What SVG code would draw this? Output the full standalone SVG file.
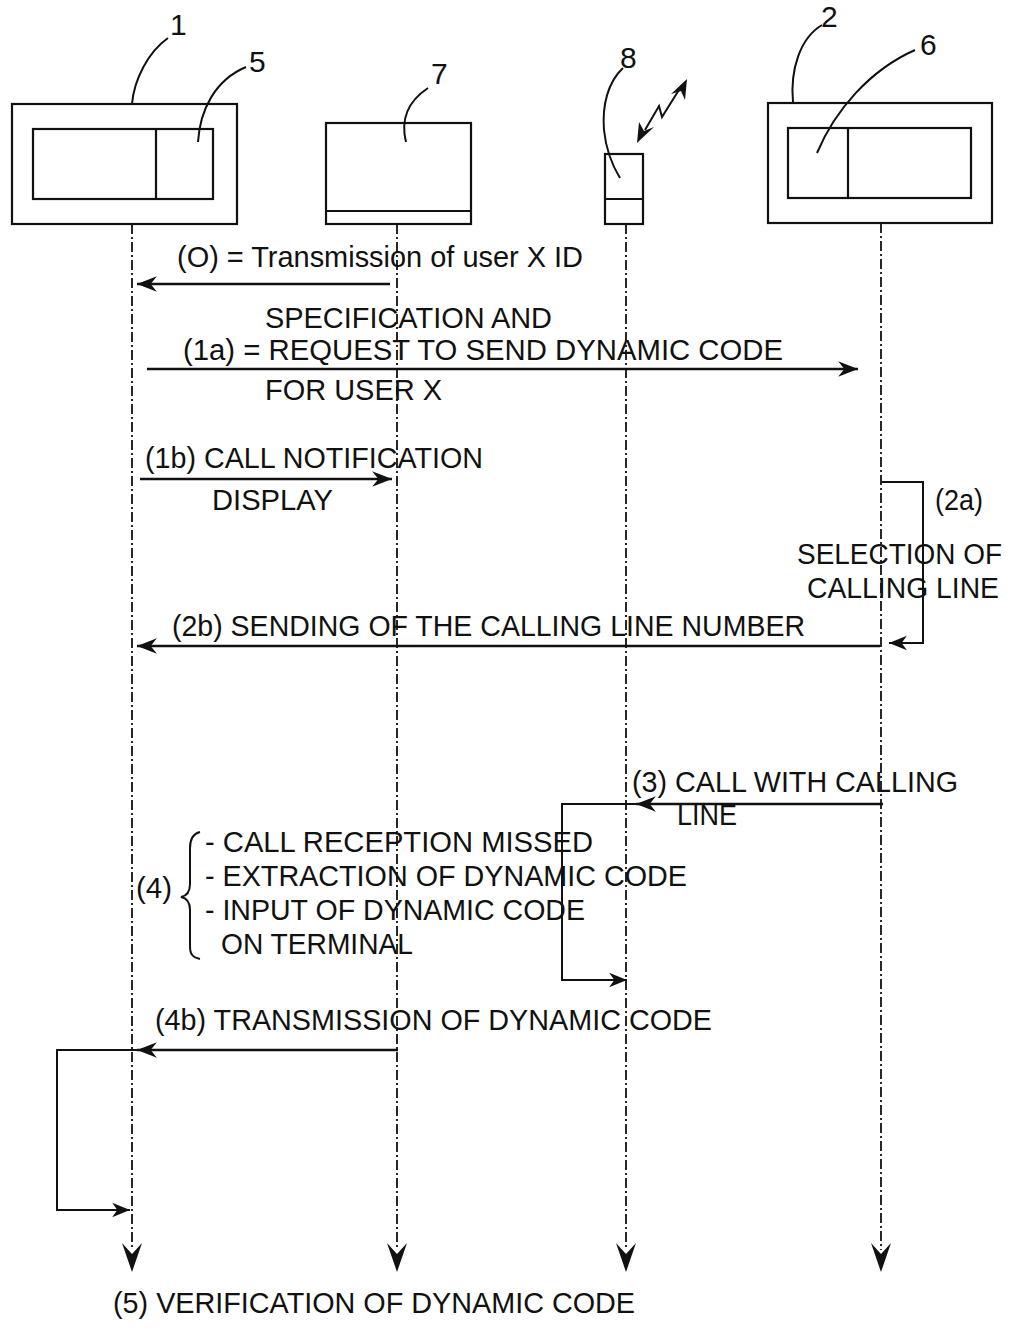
<svg xmlns="http://www.w3.org/2000/svg" width="1017" height="1331" viewBox="0 0 1017 1331">
<style>
.box{fill:none;stroke:#111;stroke-width:2.2}
.lead{fill:none;stroke:#111;stroke-width:2}
.num{font-family:"Liberation Sans",Arial,sans-serif;font-size:30px;fill:#111}
.t{font-family:"Liberation Sans",Arial,sans-serif;font-size:29px;fill:#111}
.life{fill:none;stroke:#111;stroke-width:1.8;stroke-dasharray:10 3 2 3}
.msg{fill:none;stroke:#111;stroke-width:2.4}
.loop{fill:none;stroke:#111;stroke-width:2}
.head{fill:#111}
</style>
<defs>
<marker id="ah" markerUnits="userSpaceOnUse" markerWidth="22" markerHeight="18" viewBox="-19 -8 21 16" refX="0" refY="0" orient="auto">
<path d="M0,0 L-19,-7.5 L-13,0 L-19,7.5 z" class="head"/>
</marker>
<marker id="dah" markerUnits="userSpaceOnUse" markerWidth="20" markerHeight="18" viewBox="-17 -8 19 16" refX="0" refY="0" orient="auto">
<path d="M0,0 L-17,-7 L-12,0 L-17,7 z" class="head"/>
</marker>
</defs>
<rect width="1017" height="1331" fill="#fff"/>

<g id="node1">
<rect class="box" x="12" y="104" width="225" height="120"/>
<rect class="box" x="33" y="129" width="180" height="70"/>
<line class="box" x1="156" y1="129" x2="156" y2="199"/>
<path class="lead" d="M132,104 C134,80 148,52 168,38"/>
<text class="num" x="170" y="35">1</text>
</g>

<g id="node5">
<path class="lead" d="M198,142 C200,110 215,80 246,67"/>
<text class="num" x="249" y="72">5</text>
</g>

<g id="node7">
<rect class="box" x="326" y="123" width="145" height="101"/>
<line class="box" x1="326" y1="211" x2="471" y2="211"/>
<path class="lead" d="M406,142 C400,118 410,100 428,88"/>
<text class="num" x="431" y="84">7</text>
</g>

<g id="node8">
<rect class="box" x="605" y="154" width="38" height="70"/>
<line class="box" x1="605" y1="199" x2="643" y2="199"/>
<path class="lead" d="M620,178 C612,165 606,150 604,130 C602,105 608,82 623,68"/>
<text class="num" x="620" y="68">8</text>
<path class="lead" d="M645,130 L659,106 L662,117 L682,85"/>
<path class="head" d="M637,143 L639,122 L644,131 L654,127 z"/>
<path class="head" d="M687,79 L685,100 L681,91 L671,94 z"/>
</g>

<g id="node2">
<rect class="box" x="768" y="103" width="224" height="120"/>
<rect class="box" x="788" y="128" width="183" height="70"/>
<line class="box" x1="848" y1="128" x2="848" y2="198"/>
<path class="lead" d="M793,102 C790,70 800,38 822,25"/>
<text class="num" x="821" y="27">2</text>
</g>

<g id="node6">
<path class="lead" d="M817,153 C835,110 870,70 915,50"/>
<text class="num" x="920" y="55">6</text>
</g>

<g id="connectors">
<line class="life" x1="132" y1="224" x2="132" y2="1250"/>
<line class="life" x1="397" y1="224" x2="397" y2="1250"/>
<line class="life" x1="626" y1="224" x2="626" y2="1250"/>
<line class="life" x1="881" y1="223" x2="881" y2="1250"/>
<path class="head" d="M132,1272 L122,1243 L132,1254 L142,1243 z"/>
<path class="head" d="M397,1272 L387,1243 L397,1254 L407,1243 z"/>
<path class="head" d="M626,1272 L616,1243 L626,1254 L636,1243 z"/>
<path class="head" d="M881,1272 L871,1243 L881,1254 L891,1243 z"/>

<line class="msg" x1="390" y1="284" x2="137" y2="284" marker-end="url(#ah)"/>
<line class="msg" x1="147" y1="369" x2="858" y2="369" marker-end="url(#ah)"/>
<line class="msg" x1="140" y1="479" x2="392" y2="479" marker-end="url(#ah)"/>
<path class="loop" d="M882,482 L923,482 L923,643 L889,643" marker-end="url(#dah)"/>
<line class="msg" x1="880" y1="646" x2="137" y2="646" marker-end="url(#ah)"/>
<line class="msg" x1="883" y1="804" x2="636" y2="804" marker-end="url(#ah)"/>
<path class="loop" d="M636,804 L562,804 L562,980 L627,980" marker-end="url(#dah)"/>
<line class="msg" x1="398" y1="1050" x2="137" y2="1050" marker-end="url(#ah)"/>
<path class="loop" d="M137,1050 L57,1050 L57,1210 L130,1210" marker-end="url(#dah)"/>
<path class="lead" d="M200,832 C192,834 190,840 190,848 L190,884 C190,892 186,896 181,897 C186,898 190,902 190,910 L190,946 C190,954 192,957 200,959"/>

<text class="t" x="177" y="267" textLength="406" lengthAdjust="spacingAndGlyphs">(O) = Transmission of user X ID</text>
<text class="t" x="265" y="328" textLength="287" lengthAdjust="spacingAndGlyphs">SPECIFICATION AND</text>
<text class="t" x="183" y="360" textLength="600" lengthAdjust="spacingAndGlyphs">(1a) = REQUEST TO SEND DYNAMIC CODE</text>
<text class="t" x="265" y="400" textLength="177" lengthAdjust="spacingAndGlyphs">FOR USER X</text>
<text class="t" x="145" y="468" textLength="338" lengthAdjust="spacingAndGlyphs">(1b) CALL NOTIFICATION</text>
<text class="t" x="212" y="510" textLength="121" lengthAdjust="spacingAndGlyphs">DISPLAY</text>
<text class="t" x="935" y="510" textLength="48" lengthAdjust="spacingAndGlyphs">(2a)</text>
<text class="t" x="797" y="564" textLength="205" lengthAdjust="spacingAndGlyphs">SELECTION OF</text>
<text class="t" x="807" y="598" textLength="192" lengthAdjust="spacingAndGlyphs">CALLING LINE</text>
<text class="t" x="172" y="636" textLength="633" lengthAdjust="spacingAndGlyphs">(2b) SENDING OF THE CALLING LINE NUMBER</text>
<text class="t" x="632" y="792" textLength="326" lengthAdjust="spacingAndGlyphs">(3) CALL WITH CALLING</text>
<text class="t" x="677" y="825" textLength="60" lengthAdjust="spacingAndGlyphs">LINE</text>
<text class="t" x="136" y="898" textLength="36" lengthAdjust="spacingAndGlyphs">(4)</text>
<text class="t" x="205" y="852" textLength="388" lengthAdjust="spacingAndGlyphs">- CALL RECEPTION MISSED</text>
<text class="t" x="205" y="886" textLength="482" lengthAdjust="spacingAndGlyphs">- EXTRACTION OF DYNAMIC CODE</text>
<text class="t" x="205" y="920" textLength="380" lengthAdjust="spacingAndGlyphs">- INPUT OF DYNAMIC CODE</text>
<text class="t" x="221" y="954" textLength="192" lengthAdjust="spacingAndGlyphs">ON TERMINAL</text>
<text class="t" x="155" y="1030" textLength="557" lengthAdjust="spacingAndGlyphs">(4b) TRANSMISSION OF DYNAMIC CODE</text>
<text class="t" x="113" y="1313" textLength="522" lengthAdjust="spacingAndGlyphs">(5) VERIFICATION OF DYNAMIC CODE</text>
</g>
</svg>
